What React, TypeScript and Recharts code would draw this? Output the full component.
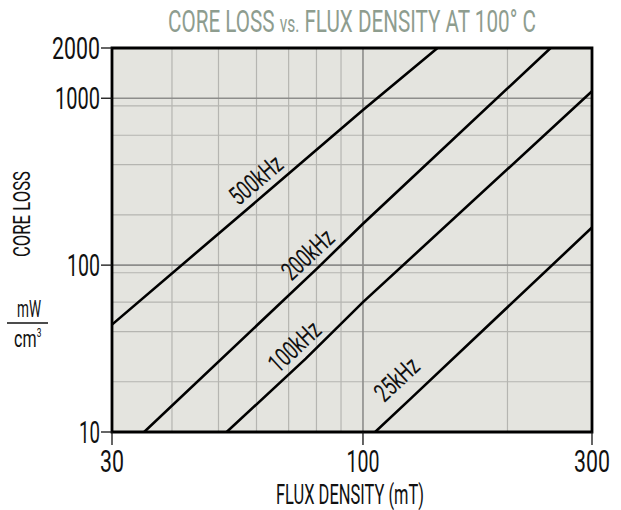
import React from 'react';
import { LineChart, Line, XAxis, YAxis, CartesianGrid, ReferenceArea } from 'recharts';

// flux density (mT) ticks and core loss (mW/cm3) ticks
const fluxTicks = [30, 100, 300];
const lossTicks = [10, 100, 1000, 2000];

// grid: light lines and the darker decade lines
const fluxGridMinor = [40, 50, 60, 70, 80, 90, 200];
const fluxGridMajor = [100];
const lossGridMinor = [20, 30, 40, 50, 60, 70, 80, 90, 200, 300, 400, 500, 600, 700, 800, 900];
const lossGridMajor = [100, 1000];

// curves
const flux500 = [30, 63, 100, 143];
const loss500 = [44, 272, 850, 2000];
const flux200 = [35, 81, 100, 246];
const loss200 = [10, 98, 177, 2000];
const flux100 = [52, 76, 100, 300];
const loss100 = [10, 27.5, 60, 1100];
const flux25 = [106, 127, 300];
const loss25 = [10, 16.3, 168];

const FONT = "Roboto, 'DejaVu Sans Condensed', sans-serif";

const toPoints = (flux: number[], loss: number[]) => flux.map((f, i) => ({ flux: f, loss: loss[i] }));

// label sits on point "at", pushed off the line by "off"
const series = [
  { name: '500kHz', data: toPoints(flux500, loss500), at: 1, angle: -40.5, off: 17 },
  { name: '200kHz', data: toPoints(flux200, loss200), at: 1, angle: -43, off: 17 },
  { name: '100kHz', data: toPoints(flux100, loss100), at: 1, angle: -43, off: 17 },
  { name: '25kHz', data: toPoints(flux25, loss25), at: 1, angle: -43, off: 24 },
];

// tick digits: the "1" is narrow in the reference face
const digitWidth = (s: string) => s.split('').reduce((w, c) => w + (c === '1' ? 9 : 12), 0);

// condensed text: squeezed horizontally to a given width
const CText = ({ x, y, width, sx, size, weight = 400, fill = '#111', anchor = 'middle', rotate = 0, baseline, children }: any) => (
  <text
    transform={`translate(${x} ${y}) rotate(${rotate}) scale(${sx} 1)`}
    textAnchor={anchor}
    dominantBaseline={baseline}
    fontFamily={FONT}
    fontWeight={weight}
    fontSize={size}
    fill={fill}
    textLength={width / sx}
    lengthAdjust="spacingAndGlyphs"
  >
    {children}
  </text>
);

const makeLabel = (text: string, at: number, angle: number, off: number) => (props: any) => {
  if (props.index !== at) return null;
  const rad = (angle * Math.PI) / 180;
  const cx = props.x + Math.sin(rad) * off;
  const cy = props.y - Math.cos(rad) * off;
  return (
    <CText x={cx} y={cy} rotate={angle} baseline="central" width={text.length * 10.2} sx={0.69} size={26}>
      {text}
    </CText>
  );
};

const XTick = (props: any) => {
  const s = String(props.payload.value);
  return (
    <CText x={props.x} y={props.y + 25} width={digitWidth(s)} sx={0.69} size={31}>
      {s}
    </CText>
  );
};

const YTick = (props: any) => {
  const s = String(props.payload.value);
  return (
    <CText x={props.x} y={props.y + 11} anchor="end" width={digitWidth(s)} sx={0.69} size={31}>
      {s}
    </CText>
  );
};

export default function App() {
  return (
    <div style={{ position: 'absolute', left: 0, top: 0, width: 621, height: 510, background: '#fff' }}>
      <LineChart width={621} height={510} margin={{ top: 48, right: 29, bottom: 0, left: 0 }}>
        <CartesianGrid
          fill="#e4e4df"
          stroke="#b5b5b1"
          strokeWidth={1.2}
          horizontalValues={lossGridMinor}
          verticalValues={fluxGridMinor}
        />
        <CartesianGrid
          fill="none"
          stroke="#8d8d8b"
          strokeWidth={1.6}
          horizontalValues={lossGridMajor}
          verticalValues={fluxGridMajor}
        />
        <XAxis
          type="number"
          dataKey="flux"
          scale="log"
          domain={[30, 300]}
          ticks={fluxTicks}
          allowDataOverflow
          height={78}
          axisLine={false}
          tickSize={13}
          tickMargin={2}
          tickLine={{ stroke: '#111', strokeWidth: 1.3 }}
          tick={XTick}
        />
        <YAxis
          type="number"
          dataKey="loss"
          scale="log"
          domain={[10, 2000]}
          ticks={lossTicks}
          allowDataOverflow
          width={112}
          axisLine={false}
          tickSize={11}
          tickMargin={1}
          tickLine={{ stroke: '#111', strokeWidth: 1.3 }}
          tick={YTick}
        />
        {series.map((s) => (
          <Line
            key={s.name}
            data={s.data}
            dataKey="loss"
            type="linear"
            stroke="#000"
            strokeWidth={2.6}
            dot={false}
            isAnimationActive={false}
            label={makeLabel(s.name, s.at, s.angle, s.off)}
          />
        ))}
        <ReferenceArea x1={30} x2={300} y1={10} y2={2000} fill="none" fillOpacity={0} stroke="#000" strokeWidth={2.8} />
      </LineChart>
      <svg width={621} height={510} style={{ position: 'absolute', left: 0, top: 0, pointerEvents: 'none' }}>
        <CText x={352} y={32} width={368} sx={0.64} size={32} fill="#8e9d8f">
          CORE LOSS <tspan fontSize={24}>vs.</tspan> FLUX DENSITY AT 100° C
        </CText>
        <CText x={350} y={504} width={148} sx={0.6} size={28}>
          FLUX DENSITY (mT)
        </CText>
        <CText x={30} y={214} rotate={-90} width={86} sx={0.72} size={23}>
          CORE LOSS
        </CText>
        <CText x={29} y={317} width={24} sx={0.6} size={23}>
          mW
        </CText>
        <line x1={7} x2={48} y1={323} y2={323} stroke="#111" strokeWidth={1.3} />
        <text x={14} y={347} fontFamily={FONT} fontSize={23} fill="#111" transform="translate(4.3 0) scale(0.7 1)">
          cm<tspan fontSize={12} dy={-10}>3</tspan>
        </text>
      </svg>
    </div>
  );
}
